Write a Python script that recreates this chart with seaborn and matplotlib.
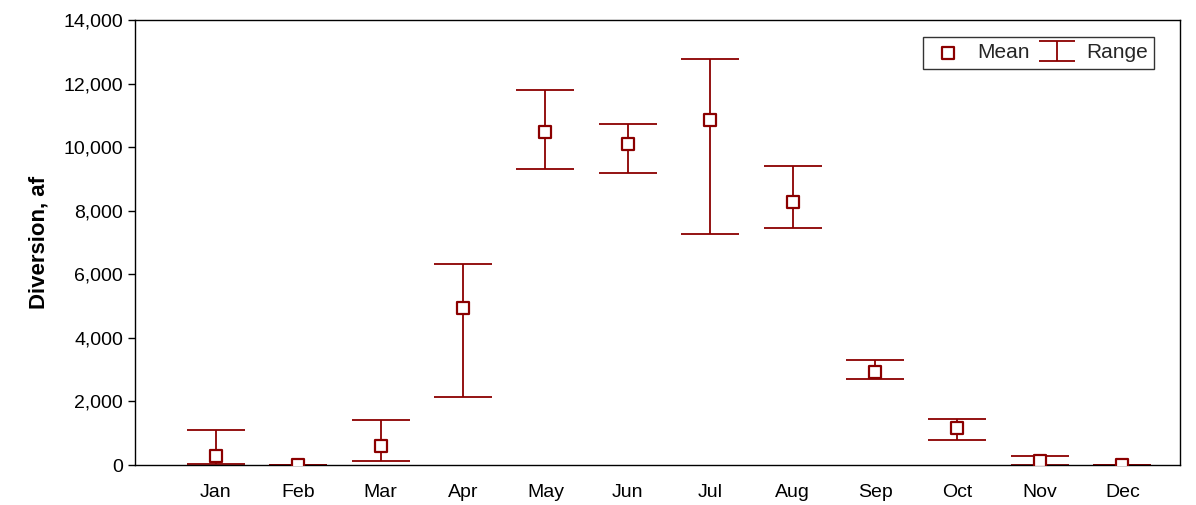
import numpy as np
import pandas as pd
import matplotlib
matplotlib.use("Agg")
import matplotlib.pyplot as plt
import seaborn as sns
from matplotlib.ticker import FuncFormatter

months = ['Jan', 'Feb', 'Mar', 'Apr', 'May', 'Jun', 'Jul', 'Aug', 'Sep', 'Oct', 'Nov', 'Dec']
mean_af = [280, 0, 600, 4940, 10470, 10090, 10850, 8270, 2920, 1160, 130, 0]
max_af = [1100, 0, 1420, 6320, 11790, 10720, 12770, 9400, 3300, 1450, 280, 0]
min_af = [20, 0, 130, 2140, 9310, 9180, 7260, 7450, 2700, 790, 0, 0]

color = '#8B0000'

sns.set_style('white')
plt.rcParams['font.family'] = ['Liberation Sans', 'DejaVu Sans']

df = pd.DataFrame({'month': months, 'x': np.arange(len(months)), 'mean': mean_af,
                   'lo': min_af, 'hi': max_af})

fig = plt.figure(figsize=(11.96, 5.05), dpi=100)
ax = fig.add_axes([135 / 1196, 40 / 505, 1045 / 1196, 445 / 505])

yerr = [df['mean'] - df['lo'], df['hi'] - df['mean']]
ax.errorbar(df['x'], df['mean'], yerr=yerr, fmt='none', ecolor=color,
            elinewidth=1.3, capsize=21, capthick=1.3, zorder=2)
sns.scatterplot(data=df, x='x', y='mean', marker='s', s=70, facecolor='white',
                edgecolor=color, linewidth=1.6, ax=ax, zorder=3, legend=False)
mean_handle = ax.collections[-1]
# legend-only handle with narrower caps
range_handle = ax.errorbar([np.nan], [np.nan], yerr=[[1], [1]], fmt='none', ecolor=color,
                           elinewidth=1.3, capsize=13, capthick=1.3)

ax.set_xlim(-0.98, 11.7)
ax.set_ylim(0, 14000)
ax.set_xticks(df['x'])
ax.set_xticklabels(months)
ax.set_yticks(np.arange(0, 14001, 2000))
ax.yaxis.set_major_formatter(FuncFormatter(lambda v, p: f'{int(v):,}'))
ax.tick_params(axis='both', labelsize=14, direction='out', colors='black')
ax.tick_params(axis='y', left=True, length=5, width=1)
ax.tick_params(axis='x', bottom=False, pad=10)
ax.set_xlabel('')
ax.set_ylabel('Diversion, af', fontsize=16, fontweight='bold', labelpad=10, color='black')
for s in ax.spines.values():
    s.set_color('black')
    s.set_linewidth(1)

leg = ax.legend([mean_handle, range_handle], ['Mean', 'Range'], loc='upper right', fontsize=15,
                ncol=2, frameon=True, fancybox=False, handletextpad=0.5,
                columnspacing=0.4, borderpad=0.3, handlelength=1.8,
                bbox_to_anchor=(0.985, 0.985))
leg.get_frame().set_edgecolor('black')
leg.get_frame().set_linewidth(1)

fig.savefig('out.png', dpi=100)
